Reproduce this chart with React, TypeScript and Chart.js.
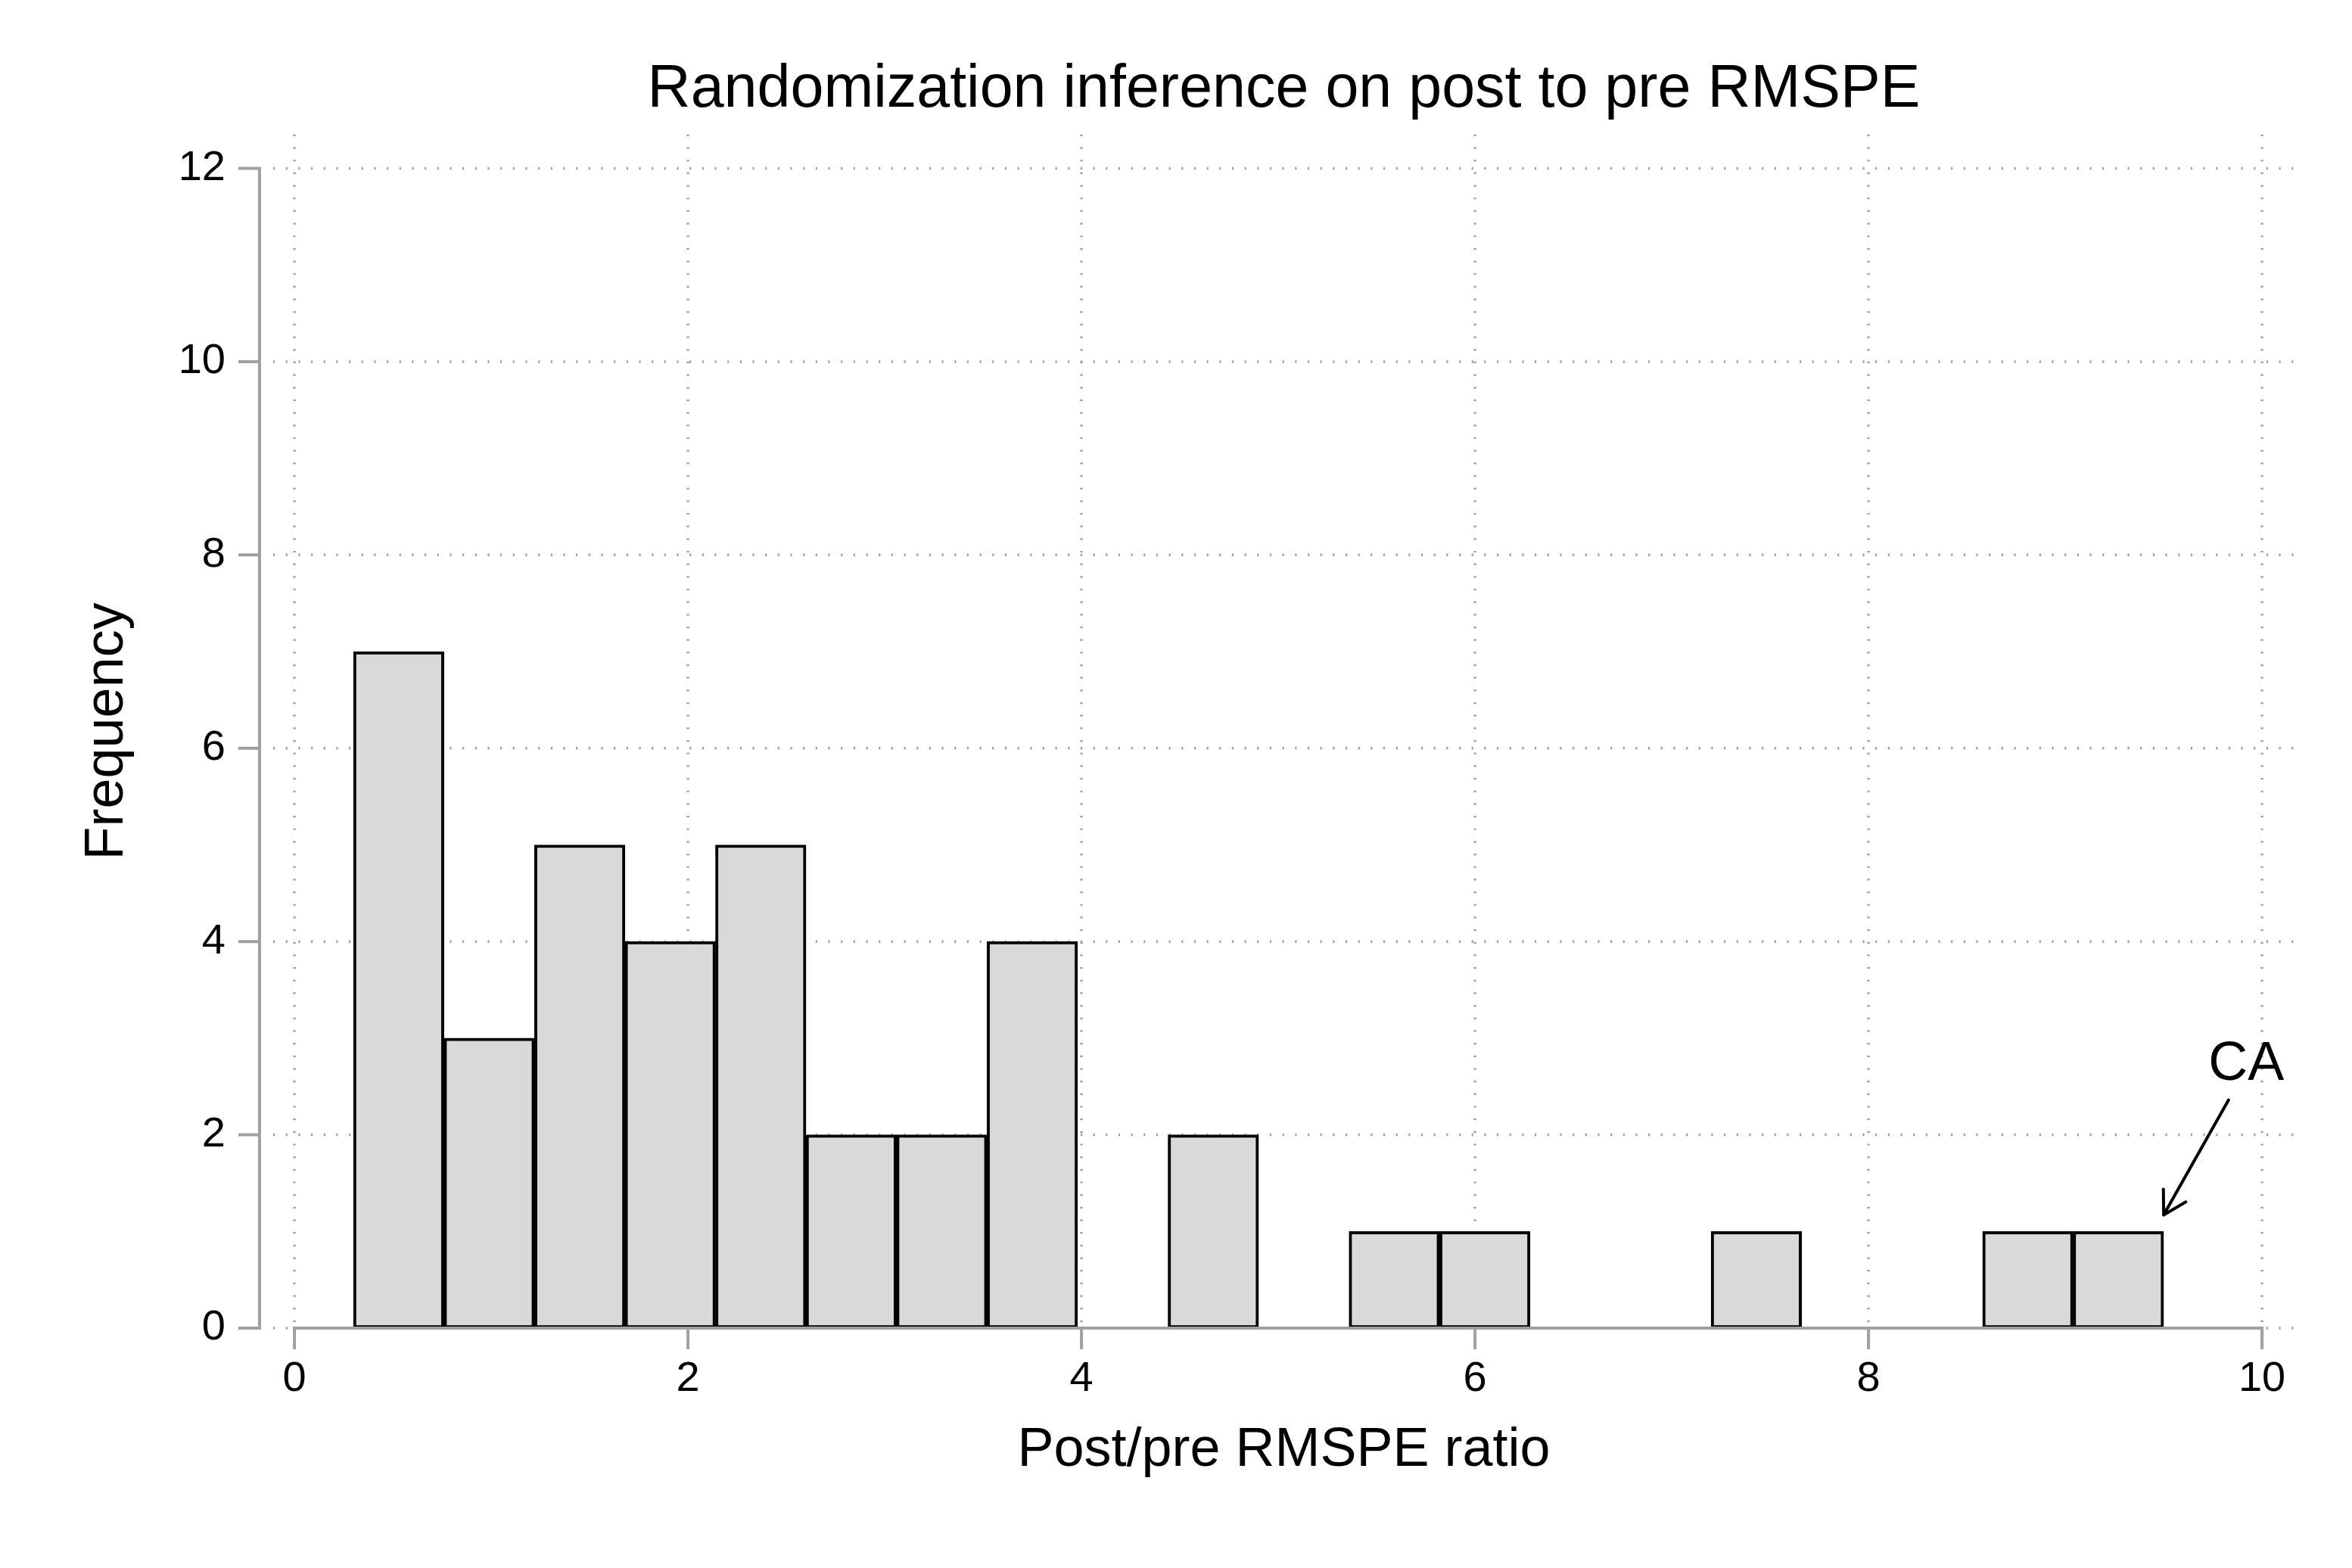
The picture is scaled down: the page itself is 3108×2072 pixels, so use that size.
import { useEffect, useRef } from "react";
import { Chart, registerables } from "chart.js";

Chart.register(...registerables);

// histogram: 20 bins of width 0.46, centres
const binCenters = [0.53, 0.99, 1.45, 1.91, 2.37, 2.83, 3.29, 3.75, 4.21, 4.67, 5.13, 5.59, 6.05, 6.51, 6.97, 7.43, 7.89, 8.35, 8.81, 9.27];
const frequencies = [7, 3, 5, 4, 5, 2, 2, 4, 0, 2, 0, 1, 1, 0, 0, 1, 0, 0, 1, 1];
const xTicks = [0, 2, 4, 6, 8, 10];
const yTicks = [0, 2, 4, 6, 8, 10, 12];
const xRange = [-0.108, 10.165];
const yRange = [0, 12.35];

// "CA" label with arrow pointing at the last bin
const noteText = "CA";
const noteAt = [9.92, 2.57];
const arrowFrom = [9.83, 2.36];
const arrowTo = [9.5, 1.17];

const FONT = "'Liberation Sans', Arial, Helvetica, sans-serif";
const GRID = "#a0a0a0";
const AXIS = "#a0a0a0";

const stataAxes = {
  id: "stataAxes",
  beforeDatasetsDraw(chart: any) {
    const { ctx, chartArea: a, scales: { x, y } } = chart;
    ctx.save();
    ctx.strokeStyle = GRID;
    ctx.lineWidth = 3.5;
    ctx.setLineDash([2.2, 14.47]);
    yTicks.forEach((v) => {
      const py = y.getPixelForValue(v);
      ctx.beginPath();
      ctx.moveTo(a.left, py);
      ctx.lineTo(a.right, py);
      ctx.stroke();
    });
    xTicks.forEach((v) => {
      const px = x.getPixelForValue(v);
      ctx.beginPath();
      ctx.moveTo(px, a.top);
      ctx.lineTo(px, a.bottom);
      ctx.stroke();
    });
    ctx.restore();
  },
  afterDatasetsDraw(chart: any) {
    const { ctx, chartArea: a, scales: { x, y } } = chart;
    const tick = 28;
    const axisX = a.left - 18;
    const y0 = y.getPixelForValue(yTicks[0]);
    const yTop = y.getPixelForValue(yTicks[yTicks.length - 1]);
    const x0 = x.getPixelForValue(xTicks[0]);
    const xEnd = x.getPixelForValue(xTicks[xTicks.length - 1]);

    ctx.save();
    ctx.strokeStyle = AXIS;
    ctx.lineWidth = 4;
    ctx.lineJoin = "miter";

    // y axis
    ctx.beginPath();
    ctx.moveTo(axisX - tick, yTop);
    ctx.lineTo(axisX, yTop);
    ctx.lineTo(axisX, y0);
    ctx.lineTo(axisX - tick, y0);
    yTicks.slice(1, -1).forEach((v) => {
      const py = y.getPixelForValue(v);
      ctx.moveTo(axisX - tick, py);
      ctx.lineTo(axisX, py);
    });
    ctx.stroke();

    // x axis
    ctx.beginPath();
    ctx.moveTo(x0, y0 + tick);
    ctx.lineTo(x0, y0);
    ctx.lineTo(xEnd, y0);
    ctx.lineTo(xEnd, y0 + tick);
    xTicks.slice(1, -1).forEach((v) => {
      const px = x.getPixelForValue(v);
      ctx.moveTo(px, y0);
      ctx.lineTo(px, y0 + tick);
    });
    ctx.stroke();

    // annotation
    const fx = x.getPixelForValue(arrowFrom[0]);
    const fy = y.getPixelForValue(arrowFrom[1]);
    const tx = x.getPixelForValue(arrowTo[0]);
    const ty = y.getPixelForValue(arrowTo[1]);
    const ang = Math.atan2(fy - ty, fx - tx);
    const head = 34;
    ctx.strokeStyle = "#000";
    ctx.lineWidth = 4;
    ctx.lineCap = "round";
    ctx.lineJoin = "round";
    ctx.beginPath();
    ctx.moveTo(fx, fy);
    ctx.lineTo(tx, ty);
    ctx.moveTo(tx + head * Math.cos(ang - Math.PI / 6), ty + head * Math.sin(ang - Math.PI / 6));
    ctx.lineTo(tx, ty);
    ctx.lineTo(tx + head * Math.cos(ang + Math.PI / 6), ty + head * Math.sin(ang + Math.PI / 6));
    ctx.stroke();

    ctx.fillStyle = "#000";
    ctx.font = `72px ${FONT}`;
    ctx.textAlign = "center";
    ctx.textBaseline = "alphabetic";
    ctx.fillText(noteText, x.getPixelForValue(noteAt[0]), y.getPixelForValue(noteAt[1]));
    ctx.restore();
  },
};

export default function App() {
  const chartRef = useRef<HTMLCanvasElement>(null);
  const chartInstance = useRef<Chart | null>(null);

  useEffect(() => {
    if (!chartRef.current) return;
    const ctx = chartRef.current.getContext("2d");
    if (!ctx) return;
    if (chartInstance.current) chartInstance.current.destroy();

    const points = binCenters
      .map((c, i) => ({ x: c, y: frequencies[i] }))
      .filter((p) => p.y > 0);

    chartInstance.current = new Chart(ctx, {
      type: "bar",
      data: {
        datasets: [
          {
            data: points as any,
            backgroundColor: "#d9d9d9",
            borderColor: "#000000",
            borderWidth: 4,
            borderSkipped: false,
            barPercentage: 1,
            categoryPercentage: 1,
          },
        ],
      },
      options: {
        responsive: true,
        maintainAspectRatio: false,
        animation: false,
        layout: { padding: { left: 0, right: 76, top: 0, bottom: 0 } },
        plugins: {
          legend: { display: false },
          tooltip: { enabled: false },
          title: {
            display: true,
            text: "Randomization inference on post to pre RMSPE",
            color: "#000",
            fullSize: false,
            font: { size: 79, family: FONT, weight: "normal" },
            padding: { top: 72, bottom: 11 },
          },
        },
        scales: {
          x: {
            type: "linear",
            offset: false,
            min: xRange[0],
            max: xRange[1],
            grid: { display: false, drawTicks: false },
            border: { display: false },
            afterBuildTicks: (s: any) => {
              s.ticks = xTicks.map((v) => ({ value: v }));
            },
            afterFit: (s: any) => {
              s.height = 317;
            },
            ticks: {
              autoSkip: false,
              maxRotation: 0,
              padding: 34,
              color: "#000",
              font: { size: 56, family: FONT },
              callback: (v: any) => String(v),
            },
            title: {
              display: true,
              text: "Post/pre RMSPE ratio",
              color: "#000",
              font: { size: 72, family: FONT },
              padding: { top: 0, bottom: 112 },
            },
          },
          y: {
            min: yRange[0],
            max: yRange[1],
            grid: { display: false, drawTicks: false },
            border: { display: false },
            afterBuildTicks: (s: any) => {
              s.ticks = yTicks.map((v) => ({ value: v }));
            },
            afterFit: (s: any) => {
              s.width = 361;
            },
            ticks: {
              padding: 63,
              color: "#000",
              font: { size: 56, family: FONT },
              callback: (v: any) => String(v),
            },
            title: {
              display: true,
              text: "Frequency",
              color: "#000",
              font: { size: 72, family: FONT },
              padding: { top: 99, bottom: 0 },
            },
          },
        },
      },
      plugins: [stataAxes],
    });

    return () => {
      if (chartInstance.current) {
        chartInstance.current.destroy();
        chartInstance.current = null;
      }
    };
  }, []);

  return (
    <div style={{ position: "fixed", left: 0, top: 0, width: 3108, height: 2072, background: "#fff" }}>
      <canvas ref={chartRef}></canvas>
    </div>
  );
}
